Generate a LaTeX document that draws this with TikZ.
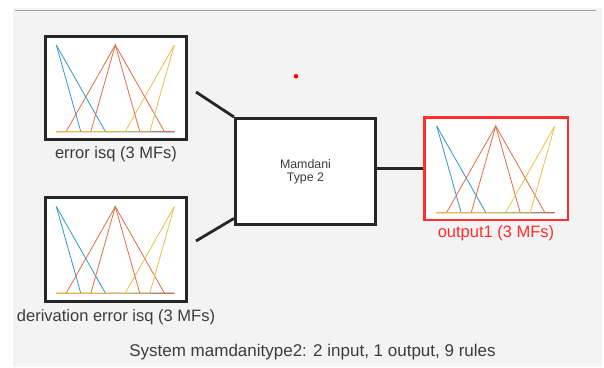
\documentclass[tikz,border=0pt]{standalone}
\usepackage{fontspec}
\setmainfont{Liberation Sans}
\definecolor{panel}{RGB}{243,243,243}
\definecolor{rule}{RGB}{165,165,165}
\definecolor{ink}{RGB}{60,60,60}
\definecolor{mfblue}{RGB}{45,150,210}
\definecolor{mforange}{RGB}{225,108,65}
\definecolor{mfyellow}{RGB}{240,190,70}
\definecolor{outred}{RGB}{255,45,45}
\tikzset{
  varbox/.style={draw=black!85, line width=2.8pt, fill=white, inner sep=0pt},
  outbox/.style={draw=outred, line width=2.5pt, fill=white, inner sep=0pt},
  link/.style={draw=black!85, line width=2.8pt},
  caption/.style={text=ink, inner sep=0pt, font=\fontsize{16.5}{19}\selectfont},
  mfline/.style={line width=0.8pt, line join=miter},
  mfset/.pic={
    % upper and lower triangles of each of the three type-2 membership functions
    \draw[mfline, mfblue] (0,-86.7) -- (49.2,0) -- (118,0);
    \draw[mfline, mfblue] (0,-86.7) -- (24.5,0) -- (118,0);
    \draw[mfline, mforange] (0,0) -- (9.8,0) -- (59,-86.7) -- (108.2,0) -- (118,0);
    \draw[mfline, mforange] (0,0) -- (34.5,0) -- (59,-86.7) -- (83.5,0) -- (118,0);
    \draw[mfline, mfyellow] (0,0) -- (68.8,0) -- (118,-86.7);
    \draw[mfline, mfyellow] (0,0) -- (93.5,0) -- (118,-86.7);
  }
}
\begin{document}
\begin{tikzpicture}[x=1pt, y=-1pt]
\useasboundingbox (0,0) rectangle (604,367);
\fill[white] (0,0) rectangle (604,367);
\fill[panel] (13,8) rectangle (602,367);
\draw[rule, line width=1.4pt] (15,10.7) -- (596,10.7);

% input variables
\node[varbox, minimum width=141.2pt, minimum height=103.2pt] (in1) at (116,88) {};
\pic at (56.3,131.7) {mfset};
\node[caption] (in1lbl) at (116,154) {error isq (3 MFs)};

\node[varbox, minimum width=141.2pt, minimum height=104.2pt] (in2) at (116,249.5) {};
\pic at (56.3,293.3) {mfset};
\node[caption] (in2lbl) at (116,317) {derivation error isq (3 MFs)};

% inference system
\node[varbox, minimum width=140.2pt, minimum height=106.2pt, align=center,
      text=ink, font=\fontsize{12.4}{13}\selectfont] (mam) at (305.5,171.5) {Mamdani\\Type 2};

% output variable
\node[outbox, minimum width=143.5pt, minimum height=102.5pt] (out) at (496,168.5) {};
\pic at (436.7,212.7) {mfset};
\node[caption, text=outred] (outlbl) at (496,233.5) {output1 (3 MFs)};

% connectors
\coordinate (j1) at (196,92);
\coordinate (j2) at (196,241);
\draw[link] (j1) -- (mam.north west);
\draw[link] (j2) -- ([yshift=7.6pt]mam.south west);
\draw[link] (mam.east |- out.west) -- (out.west);

\fill[red] (296,76.3) circle (2.3);

\node[caption, font=\fontsize{17}{20}\selectfont] (sys) at (312.5,352) {System mamdanitype2: 2 input, 1 output, 9 rules};
\end{tikzpicture}
\end{document}
